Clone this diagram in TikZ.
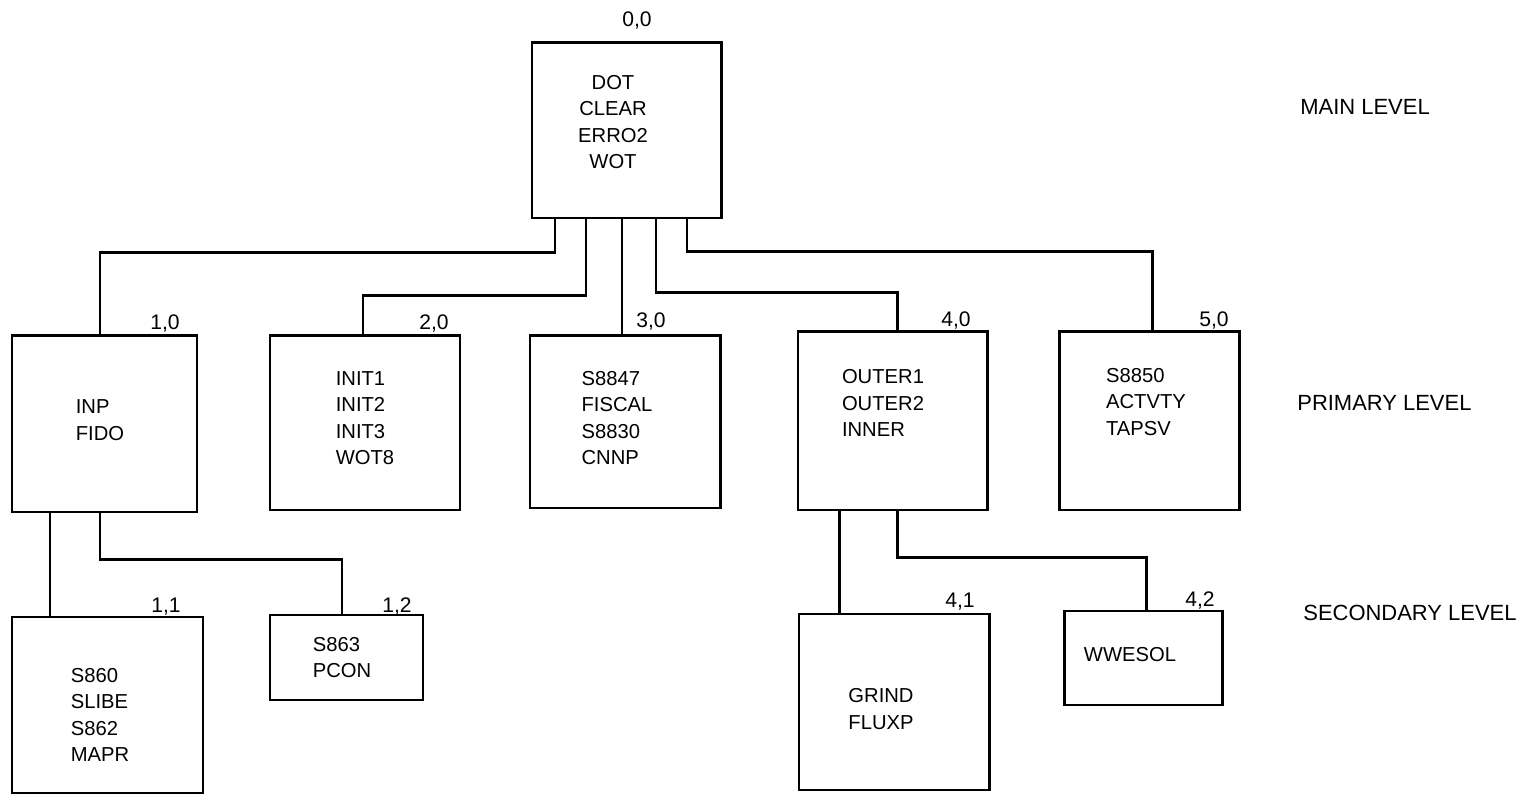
\documentclass[tikz,border=0pt]{standalone}
\usepackage{fontspec}
\setmainfont{Liberation Sans}
\usepackage{tikz}
\usetikzlibrary{positioning, calc}

\begin{document}
\begin{tikzpicture}[
  x=0.2mm, y=-0.2mm,
  font=\fontsize{11.5}{15}\selectfont,
  box/.style={draw, line width=1.7pt, inner sep=0pt},
  txt/.style={align=left, inner sep=0pt},
  num/.style={anchor=base, inner sep=0pt, font=\fontsize{12}{14}\selectfont},
  level/.style={anchor=west, inner sep=0pt, font=\fontsize{12.5}{15}\selectfont},
  link/.style={line width=1.7pt}
]
\useasboundingbox (0,0) rectangle (1534,794);

% main level
\node[box, minimum width=37.8mm, minimum height=35mm] (b00) at (626.5,130.5) {};
\node[txt, align=center] (t00) at ($(b00.center)+(-13.5,-8.5)$) {DOT\\CLEAR\\ERRO2\\WOT};
\node[num] (n00) at (637,27) {0,0};

% primary level
\node[box, minimum width=37mm, minimum height=35.2mm] (b10) at (104.5,424) {};
\node[box, minimum width=38mm, minimum height=34.8mm] (b20) at (365,423) {};
\node[box, minimum width=38mm, minimum height=34.4mm] (b30) at (625,422) {};
\node[box, minimum width=37.8mm, minimum height=35.6mm] (b40) at (892.5,421) {};
\node[box, minimum width=36mm, minimum height=35.6mm] (b50) at (1149,421) {};

\node[txt] (t10) at ($(b10.center)+(-4.5,-4)$) {INP\\FIDO};
\node[txt] (t20) at ($(b20.center)+(0,-5)$) {INIT1\\INIT2\\INIT3\\WOT8};
\node[txt] (t30) at ($(b30.center)+(-8,-4)$) {S8847\\FISCAL\\S8830\\CNNP};
\node[txt] (t40) at ($(b40.center)+(-9.5,-18)$) {OUTER1\\OUTER2\\INNER};
\node[txt] (t50) at ($(b50.center)+(-3,-19)$) {S8850\\ACTVTY\\TAPSV};

\node[num] (n10) at (165,330) {1,0};
\node[num] (n20) at (434,330) {2,0};
\node[num] (n30) at (651,328) {3,0};
\node[num] (n40) at (956,327) {4,0};
\node[num] (n50) at (1214,327) {5,0};

% secondary level
\node[box, minimum width=38.2mm, minimum height=35.2mm] (b11) at (107.5,705) {};
\node[box, minimum width=30.6mm, minimum height=17mm] (b12) at (346.5,657.5) {};
\node[box, minimum width=38mm, minimum height=35.2mm] (b41) at (894,702) {};
\node[box, minimum width=31.6mm, minimum height=18.8mm] (b42) at (1143,658) {};

\node[txt] (t11) at ($(b11.center)+(-7.5,10)$) {S860\\SLIBE\\S862\\MAPR};
\node[txt] (t12) at ($(b12.center)+(-4.5,0)$) {S863\\PCON};
\node[txt] (t41) at ($(b41.center)+(-13,7)$) {GRIND\\FLUXP};
\node[txt] (t42) at ($(b42.center)+(-13,-3)$) {WWESOL};

\node[num] (n11) at (166,613) {1,1};
\node[num] (n12) at (397,613) {1,2};
\node[num] (n41) at (960,608) {4,1};
\node[num] (n42) at (1200,607) {4,2};

% level names
\node[level] (lmain) at (1300,107) {MAIN LEVEL};
\node[level] (lprim) at (1297,403) {PRIMARY LEVEL};
\node[level] (lsec) at (1303,613) {SECONDARY LEVEL};

% stubs
\coordinate (o1) at ($(b00.south)+(-71.5,0)$);
\coordinate (o2) at ($(b00.south)+(-40.5,0)$);
\coordinate (o3) at ($(b00.south)+(-4.5,0)$);
\coordinate (o4) at ($(b00.south)+(29.5,0)$);
\coordinate (o5) at ($(b00.south)+(60.5,0)$);
\coordinate (i1) at ($(b10.north)+(-4.5,0)$);
\coordinate (i2) at ($(b20.north)+(-2,0)$);
\coordinate (i4) at ($(b40.north)+(4.5,0)$);
\coordinate (i5) at ($(b50.north)+(3,0)$);

\draw[link] (o1) |- ($(i1)+(0,-82)$) -- (i1);
\draw[link] (o2) |- ($(i2)+(0,-39)$) -- (i2);
\draw[link] (o3) -- (o3 |- b30.north);
\draw[link] (o4) |- ($(i4)+(0,-38)$) -- (i4);
\draw[link] (o5) |- ($(i5)+(0,-79)$) -- (i5);

\coordinate (p1) at ($(b10.south)+(-54.5,0)$);
\coordinate (p2) at ($(b10.south)+(-4.5,0)$);
\coordinate (q2) at ($(b12.north)+(-4.5,0)$);
\coordinate (p4) at ($(b40.south)+(-53.5,0)$);
\coordinate (p5) at ($(b40.south)+(4.5,0)$);
\coordinate (q5) at ($(b42.north)+(3,0)$);

\draw[link] (p1) -- (p1 |- b11.north);
\draw[link] (p2) |- ($(q2)+(0,-54)$) -- (q2);
\draw[link] (p4) -- (p4 |- b41.north);
\draw[link] (p5) |- ($(q5)+(0,-52)$) -- (q5);
\end{tikzpicture}
\end{document}
